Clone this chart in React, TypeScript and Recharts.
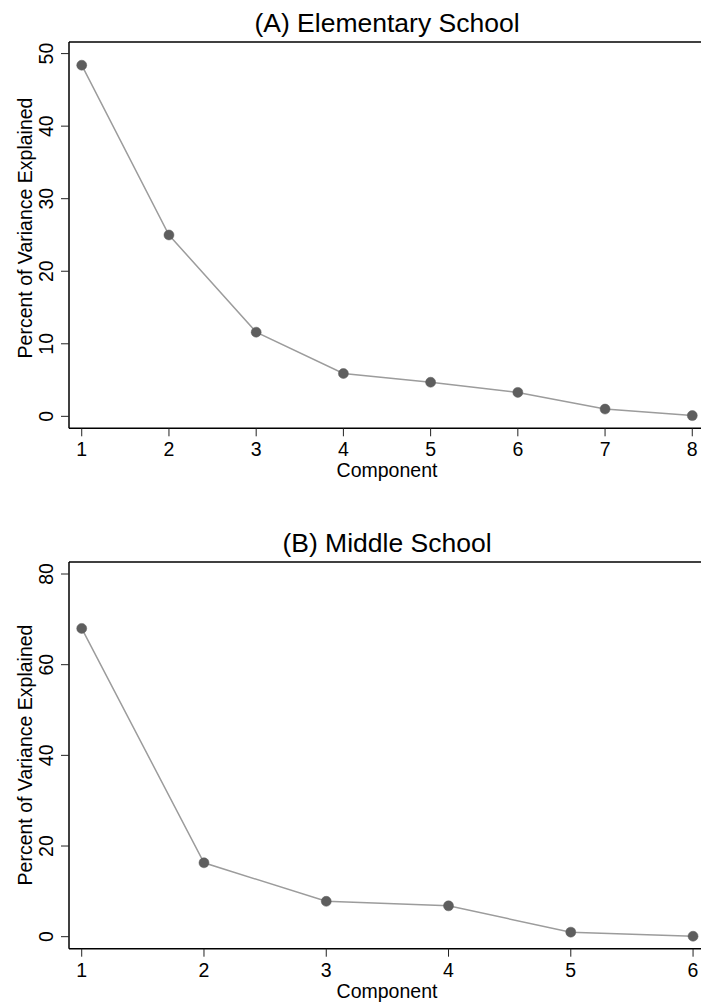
import { Line, LineChart, ReferenceLine, XAxis, YAxis } from 'recharts'

// Panel A: elementary school scree plot
const componentsA = [1, 2, 3, 4, 5, 6, 7, 8]
const varianceA = [48.4, 25.0, 11.6, 5.9, 4.7, 3.3, 1.0, 0.1]
const yTicksA = [0, 10, 20, 30, 40, 50]

// Panel B: middle school scree plot
const componentsB = [1, 2, 3, 4, 5, 6]
const varianceB = [68.0, 16.3, 7.8, 6.8, 1.0, 0.1]
const yTicksB = [0, 20, 40, 60, 80]

const FONT = '"Liberation Sans", Arial, Helvetica, sans-serif'

interface PanelProps {
  title: string
  components: number[]
  values: number[]
  yTicks: number[]
  yDomain: [number, number]
  xDomain: [number, number]
  height: number
  xAxisHeight: number
  tickBaseline: number
  labelBaseline: number
  yLabelCenter: number
  top: number
}

function Panel({
  title,
  components,
  values,
  yTicks,
  yDomain,
  xDomain,
  height,
  xAxisHeight,
  tickBaseline,
  labelBaseline,
  yLabelCenter,
  top,
}: PanelProps) {
  const data = components.map((c, i) => ({ component: c, variance: values[i] }))

  return (
    <div style={{ position: 'absolute', left: 0, top }}>
      <LineChart width={701} height={height} data={data} margin={{ top: 42, right: 0, bottom: 0, left: 0 }}>
        <XAxis
          type="number"
          dataKey="component"
          domain={xDomain}
          allowDataOverflow
          ticks={components}
          interval={0}
          height={xAxisHeight}
          tickSize={8}
          tickLine={{ stroke: '#222', strokeWidth: 1 }}
          axisLine={{ stroke: '#000', strokeWidth: 1.5 }}
          tick={(props: any) => (
            <text x={props.x} y={tickBaseline} textAnchor="middle" fontSize={19.5} fontFamily={FONT} fill="#000">
              {props.payload.value}
            </text>
          )}
          label={{
            content: () => (
              <text x={387} y={labelBaseline} textAnchor="middle" fontSize={19.5} fontFamily={FONT} fill="#000">
                Component
              </text>
            ),
          }}
        />
        <YAxis
          type="number"
          domain={yDomain}
          allowDataOverflow
          ticks={yTicks}
          interval={0}
          width={69}
          tickSize={8}
          tickLine={{ stroke: '#222', strokeWidth: 1 }}
          axisLine={{ stroke: '#000', strokeWidth: 1.5 }}
          tick={(props: any) => (
            <text
              x={53}
              y={props.y}
              transform={`rotate(-90 53 ${props.y})`}
              textAnchor="middle"
              fontSize={19.5}
              fontFamily={FONT}
              fill="#000"
            >
              {props.payload.value}
            </text>
          )}
          label={{
            content: () => (
              <text
                x={31.5}
                y={yLabelCenter}
                transform={`rotate(-90 31.5 ${yLabelCenter})`}
                textAnchor="middle"
                fontSize={19.5}
                fontFamily={FONT}
                fill="#000"
              >
                Percent of Variance Explained
              </text>
            ),
          }}
        />
        {/* top border of the plot region, carrying the panel title */}
        <ReferenceLine
          y={yDomain[1]}
          stroke="#000"
          strokeWidth={1.5}
          label={{
            content: () => (
              <text x={387} y={31.7} textAnchor="middle" fontSize={26.5} fontFamily={FONT} fill="#000">
                {title}
              </text>
            ),
          }}
        />
        <Line
          dataKey="variance"
          stroke="#9c9c9c"
          strokeWidth={1.5}
          dot={{ r: 5, fill: '#5e5e5e', stroke: '#5e5e5e', strokeWidth: 0.5 }}
          activeDot={false}
          isAnimationActive={false}
        />
      </LineChart>
    </div>
  )
}

export default function App() {
  return (
    <div
      style={{
        position: 'absolute',
        left: 0,
        top: 0,
        width: 701,
        height: 1005,
        background: '#fff',
        overflow: 'hidden',
      }}
    >
      <Panel
        title="(A) Elementary School"
        components={componentsA}
        values={varianceA}
        yTicks={yTicksA}
        yDomain={[-1.65, 51.6]}
        xDomain={[0.854, 8.1]}
        height={500}
        xAxisHeight={71.7}
        tickBaseline={456}
        labelBaseline={476.7}
        yLabelCenter={228}
        top={0}
      />
      <Panel
        title="(B) Middle School"
        components={componentsB}
        values={varianceB}
        yTicks={yTicksB}
        yDomain={[-2.65, 82.65]}
        xDomain={[0.896, 6.065]}
        height={485}
        xAxisHeight={56.3}
        tickBaseline={456.7}
        labelBaseline={478.3}
        yLabelCenter={235}
        top={520}
      />
    </div>
  )
}
